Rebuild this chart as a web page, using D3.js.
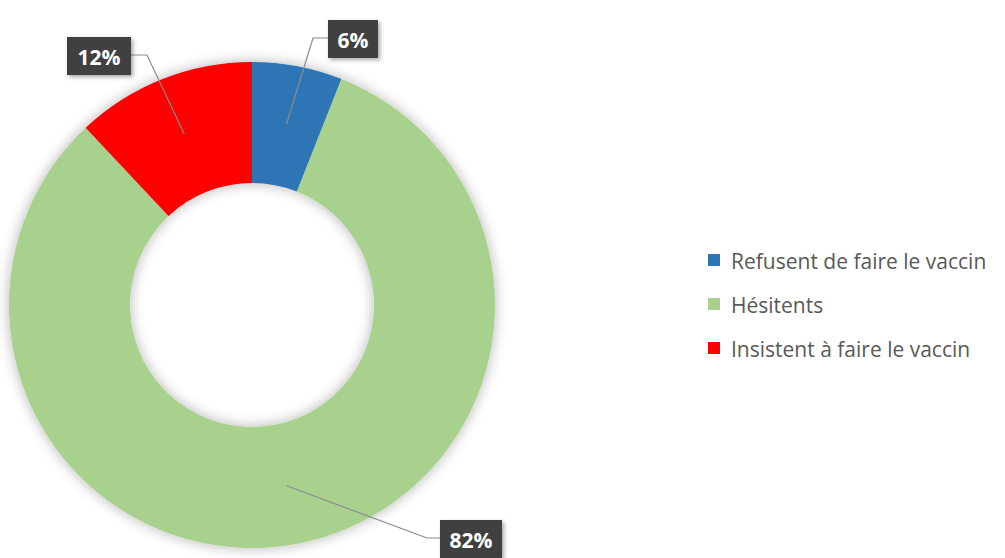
<!DOCTYPE html>
<html>
<head>
<meta charset="utf-8">
<script src="https://cdn.jsdelivr.net/npm/d3@7"></script>
<style>
  body { margin: 0; background: #fff; }
</style>
</head>
<body>
<div id="chart"></div>
<script>
const categories = ["Refusent de faire le vaccin", "Hésitents", "Insistent à faire le vaccin"];
const values = [6, 82, 12];
const labels = ["6%", "82%", "12%"];
const colors = ["#2E75B6", "#A9D18E", "#FF0000"];

const width = 1005, height = 558;
const cx = 252, cy = 305;
const outerR = 243, innerR = 122;

const svg = d3.select("#chart")
    .append("svg")
    .attr("width", width)
    .attr("height", height);

const defs = svg.append("defs");
const glow = defs.append("filter").attr("id", "glow")
    .attr("x", "-20%").attr("y", "-20%").attr("width", "140%").attr("height", "140%");
glow.append("feGaussianBlur").attr("in", "SourceAlpha").attr("stdDeviation", 7).attr("result", "b");
glow.append("feComponentTransfer").attr("in", "b").attr("result", "b2")
    .append("feFuncA").attr("type", "linear").attr("slope", 0.3);
const gm = glow.append("feMerge");
gm.append("feMergeNode").attr("in", "b2");
gm.append("feMergeNode").attr("in", "SourceGraphic");

const boxShadow = defs.append("filter").attr("id", "boxshadow")
    .attr("x", "-20%").attr("y", "-20%").attr("width", "150%").attr("height", "150%");
boxShadow.append("feDropShadow").attr("dx", 2).attr("dy", 2).attr("stdDeviation", 2)
    .attr("flood-color", "#000").attr("flood-opacity", 0.35);

const pie = d3.pie().sort(null).value(d => d);
const arcs = pie(values);
const arc = d3.arc().innerRadius(innerR).outerRadius(outerR);
const leaderArc = d3.arc().innerRadius(184).outerRadius(184);

const g = svg.append("g").attr("transform", `translate(${cx},${cy})`);

g.append("g").attr("filter", "url(#glow)")
    .selectAll("path")
    .data(arcs)
    .join("path")
    .attr("d", arc)
    .attr("fill", (d, i) => colors[i]);

// label boxes (relative to center) and elbow points
const labelLayout = [
    { box: [328 - cx, 20 - cy, 50, 38], elbow: [313 - cx, 38 - cy], end: [328 - cx, 38 - cy] },
    { box: [440 - cx, 520 - cy, 62, 38], elbow: [427 - cx, 538 - cy], end: [440 - cx, 538 - cy] },
    { box: [67 - cx, 37 - cy, 64, 38], elbow: [147 - cx, 55 - cy], end: [131 - cx, 55 - cy] }
];

const leaders = g.append("g");
arcs.forEach((d, i) => {
    const start = leaderArc.centroid(d);
    const L = labelLayout[i];
    leaders.append("polyline")
        .attr("points", [start, L.elbow, L.end].map(p => p.join(",")).join(" "))
        .attr("fill", "none")
        .attr("stroke", "#8c8c8c")
        .attr("stroke-width", 1.2);
});

const lbl = g.append("g");
arcs.forEach((d, i) => {
    const [x, y, w, h] = labelLayout[i].box;
    lbl.append("rect")
        .attr("x", x).attr("y", y).attr("width", w).attr("height", h)
        .attr("fill", "#404040")
        .attr("filter", "url(#boxshadow)");
    lbl.append("text")
        .attr("x", x + w / 2).attr("y", y + h / 2 + 1)
        .attr("text-anchor", "middle")
        .attr("dominant-baseline", "central")
        .attr("fill", "#fff")
        .style("font-family", "'Open Sans', sans-serif")
        .style("font-weight", "bold")
        .style("font-size", "21px")
        .text(labels[i]);
});

// legend
const legend = svg.append("g").attr("transform", "translate(708,0)");
const legendY = d3.scalePoint().domain(categories).range([260, 348]);
const items = legend.selectAll("g")
    .data(categories)
    .join("g")
    .attr("transform", d => `translate(0,${legendY(d)})`);
items.append("rect")
    .attr("x", 0).attr("y", -6)
    .attr("width", 12).attr("height", 12)
    .attr("fill", (d, i) => colors[i]);
items.append("text")
    .attr("x", 23).attr("y", 1)
    .attr("dominant-baseline", "central")
    .attr("fill", "#595959")
    .style("font-family", "'Open Sans', sans-serif")
    .style("font-size", "21px")
    .text(d => d);
</script>
</body>
</html>
